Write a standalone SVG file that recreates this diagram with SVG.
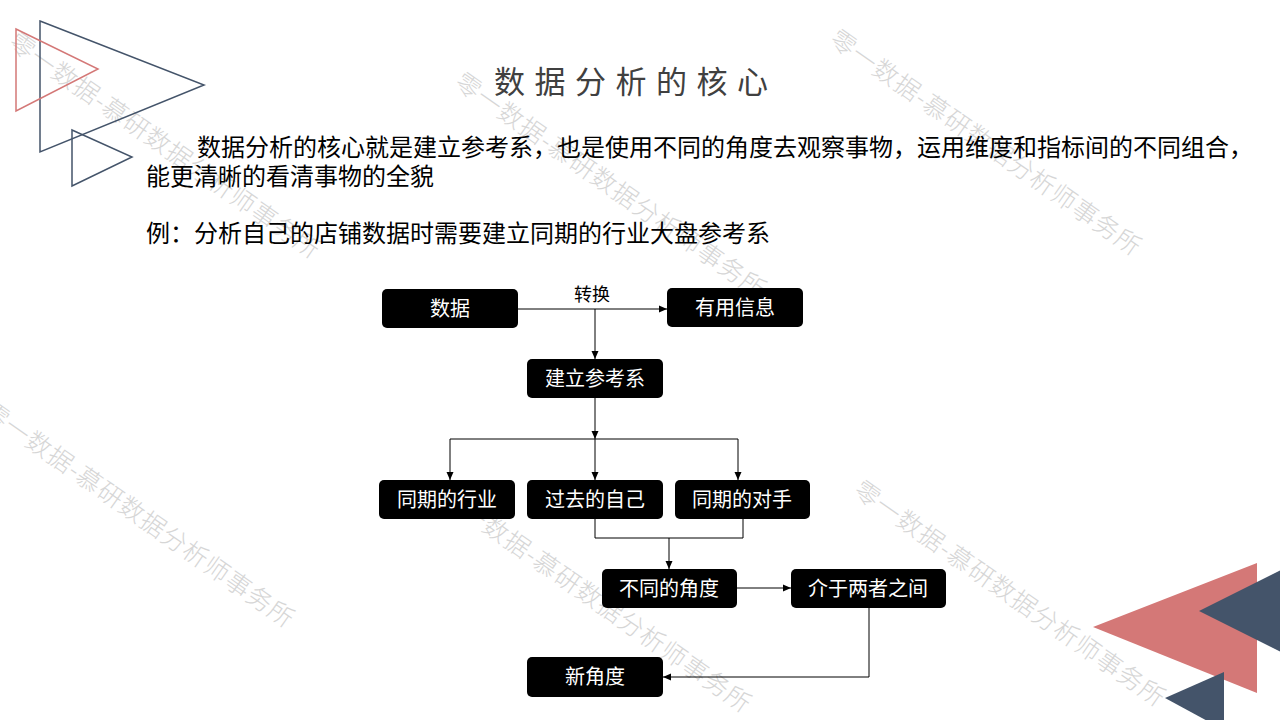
<svg xmlns="http://www.w3.org/2000/svg" width="1280" height="720" viewBox="0 0 1280 720">
<defs>
<style>
.wm{font-family:"Noto Sans CJK SC","Noto Sans",sans-serif;font-size:25px;font-weight:300;letter-spacing:1px;fill:#d6d6d6;}
.title{font-family:"Noto Sans CJK SC","Noto Sans",sans-serif;font-size:31px;letter-spacing:9.5px;fill:#404040;}
.body{font-family:"Noto Sans CJK SC","Noto Sans",sans-serif;font-size:24px;fill:#000;}
.node rect{fill:#000;}
.node text{font-family:"Noto Sans CJK SC","Noto Sans",sans-serif;font-size:20px;fill:#fff;text-anchor:middle;}
.conn path{fill:none;stroke:#000;stroke-width:1;}
.lbl{font-family:"Noto Sans CJK SC","Noto Sans",sans-serif;font-size:18px;fill:#000;text-anchor:middle;}
</style>
<marker id="arr" markerUnits="userSpaceOnUse" markerWidth="9" markerHeight="8" refX="8" refY="4" orient="auto">
<path d="M0,0.5 L8,4 L0,7.5 z" fill="#000"/>
</marker>
</defs>
<rect width="1280" height="720" fill="#fff"/>
<g id="watermarks">
<text class="wm" transform="translate(7,46) rotate(35)">零一数据-慕研数据分析师事务所</text>
<text class="wm" transform="translate(453,86) rotate(35)">零一数据-慕研数据分析师事务所</text>
<text class="wm" transform="translate(828,43) rotate(35)">零一数据-慕研数据分析师事务所</text>
<text class="wm" transform="translate(-19,415) rotate(35)">零一数据-慕研数据分析师事务所</text>
<text class="wm" transform="translate(438,500) rotate(35)">零一数据-慕研数据分析师事务所</text>
<text class="wm" transform="translate(852,494) rotate(35)">零一数据-慕研数据分析师事务所</text>
</g>
<g id="decor">
<polygon points="40,21 204,85 40,152" fill="none" stroke="#44546a" stroke-width="1.5"/>
<polygon points="16,29 98,69 16,111" fill="none" stroke="#d47877" stroke-width="1.5"/>
<polygon points="72,130 132,157 72,186" fill="none" stroke="#44546a" stroke-width="1.5"/>
<polygon points="1093,627 1257,563 1257,693" fill="#d47877"/>
<polygon points="1199,611 1285,568 1285,654" fill="#44546a"/>
<polygon points="1165,698 1224,672 1224,730" fill="#44546a"/>
</g>
<text class="title" x="494" y="93">数据分析的核心</text>
<text class="body" x="197" y="156">数据分析的核心就是建立参考系，也是使用不同的角度去观察事物，运用维度和指标间的不同组合，</text>
<text class="body" x="146" y="185">能更清晰的看清事物的全貌</text>
<text class="body" x="146" y="242">例：分析自己的店铺数据时需要建立同期的行业大盘参考系</text>
<g id="connectors" class="conn">
<path d="M518,309 H667" marker-end="url(#arr)"/>
<path d="M595,309 V359" marker-end="url(#arr)"/>
<path d="M595,398 V439" marker-end="url(#arr)"/>
<path d="M595,439 H450 V480" marker-end="url(#arr)"/>
<path d="M595,439 V480" marker-end="url(#arr)"/>
<path d="M595,439 H738 V480" marker-end="url(#arr)"/>
<path d="M595,519 V538 H743 V519"/>
<path d="M669,538 V569" marker-end="url(#arr)"/>
<path d="M737,588 H791" marker-end="url(#arr)"/>
<path d="M869,608 V677 H663" marker-end="url(#arr)"/>
<text class="lbl" x="592" y="301">转换</text>
</g>
<g id="n-shuju" class="node"><rect x="382" y="289" width="136" height="39" rx="5"/><text x="450" y="316">数据</text></g>
<g id="n-youyong" class="node"><rect x="667" y="288" width="136" height="39" rx="5"/><text x="735" y="315">有用信息</text></g>
<g id="n-jianli" class="node"><rect x="527" y="359" width="136" height="39" rx="5"/><text x="595" y="386">建立参考系</text></g>
<g id="n-hangye" class="node"><rect x="379" y="480" width="136" height="39" rx="5"/><text x="447" y="507">同期的行业</text></g>
<g id="n-ziji" class="node"><rect x="527" y="480" width="136" height="39" rx="5"/><text x="595" y="507">过去的自己</text></g>
<g id="n-duishou" class="node"><rect x="675" y="480" width="135" height="39" rx="5"/><text x="742" y="507">同期的对手</text></g>
<g id="n-jiaodu" class="node"><rect x="602" y="569" width="135" height="39" rx="5"/><text x="669" y="596">不同的角度</text></g>
<g id="n-jieyu" class="node"><rect x="791" y="569" width="155" height="39" rx="5"/><text x="868" y="596">介于两者之间</text></g>
<g id="n-xin" class="node"><rect x="527" y="657" width="136" height="40" rx="5"/><text x="595" y="684">新角度</text></g>
</svg>
